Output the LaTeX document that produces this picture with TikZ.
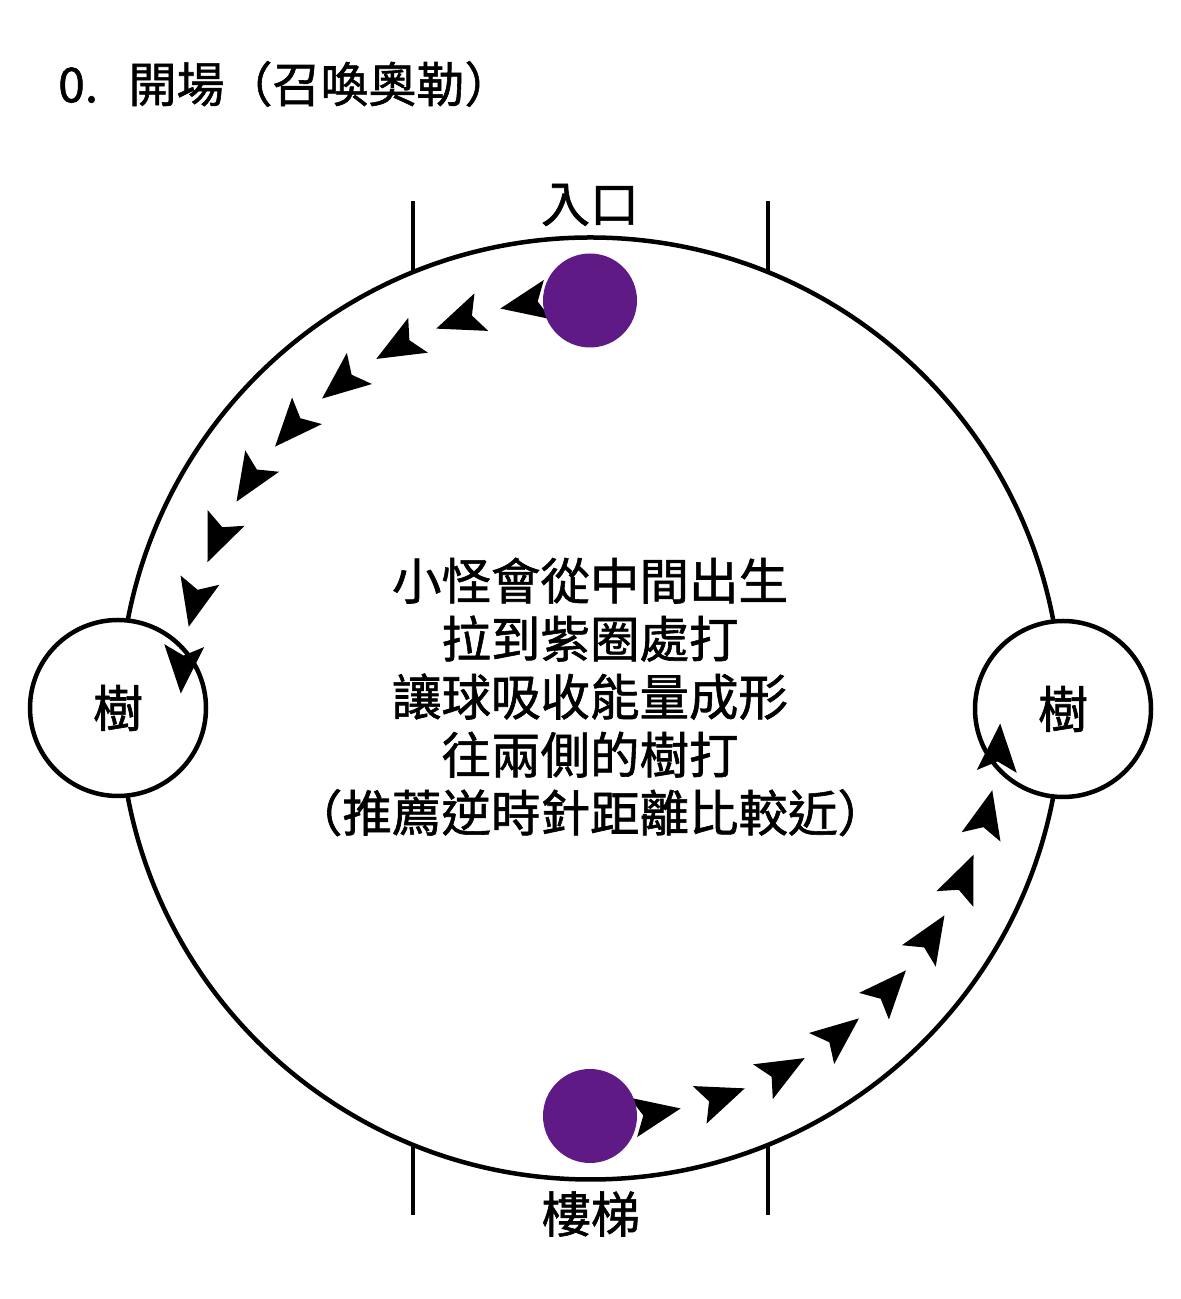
\documentclass[tikz,border=0pt]{standalone}
\usepackage{fontspec}
\setmainfont{Noto Sans CJK TC}[FakeBold=1.2]
\usetikzlibrary{calc}
\definecolor{purp}{HTML}{601A86}
\begin{document}
\begin{tikzpicture}[x=1pt,y=1pt,
  ring/.style={circle, draw=black, line width=4.5pt, inner sep=0pt},
  tree/.style={ring, fill=white, minimum size=176pt, font=\fontsize{50}{50}\selectfont},
  ball/.style={circle, fill=purp, inner sep=0pt, minimum size=94pt},
  lbl/.style={inner sep=0pt, font=\fontsize{49}{49}\selectfont},
  wall/.style={line width=4.5pt},
  head/.style={fill=black}]
\useasboundingbox (0,0) rectangle (1181,1299);
\coordinate (C) at (590.5,590.5);
\node[ring, minimum size=942pt] (main) at (C) {};
% walls at the entrance and the stairs
\coordinate (tlA) at (413,1098); \coordinate (tlB) at ($(C)+(-177.5,436)$);
\coordinate (trA) at (768,1098); \coordinate (trB) at ($(C)+(177.5,436)$);
\coordinate (blA) at (413,84);   \coordinate (blB) at ($(C)+(-177.5,-436)$);
\coordinate (brA) at (768,84);   \coordinate (brB) at ($(C)+(177.5,-436)$);
\draw[wall] (tlA) -- (tlB);
\draw[wall] (trA) -- (trB);
\draw[wall] (blA) -- (blB);
\draw[wall] (brA) -- (brB);
% trees
\node[tree] (lt) at (118,591) {樹};
\node[tree] (rt) at (1063,590) {樹};
% arrow trails
\foreach \k in {0,...,8} {
  \pgfmathsetmacro\a{102.7+9.4*\k}
  \fill[head, shift={($(C)+(\a:410)$)}, rotate=\a+88] (0,0) -- (-48,20) -- (-38,0) -- (-48,-20) -- cycle;
  \pgfmathsetmacro\b{282.7+9.4*\k}
  \fill[head, shift={($(C)+(\b:410)$)}, rotate=\b+88] (0,0) -- (-48,20) -- (-38,0) -- (-48,-20) -- cycle;
}
% purple circles
\node[ball] (top) at (590,998.5) {};
\node[ball] (bot) at (590,183) {};
% labels
\node[lbl] (entry) at (590,1094) {入口};
\node[lbl] (stairs) at (591,85) {樓梯};
\node[lbl, anchor=west, font=\fontsize{48}{48}\selectfont] (title) at (58,1215) {0.\hspace{16pt} 開場（召喚奧勒）};
\node[inner sep=0pt, align=center, font=\fontsize{49.5}{58}\selectfont] (desc) at (590,602)
  {小怪會從中間出生\\拉到紫圈處打\\讓球吸收能量成形\\往兩側的樹打\\（推薦逆時針距離比較近）};
\end{tikzpicture}
\end{document}
